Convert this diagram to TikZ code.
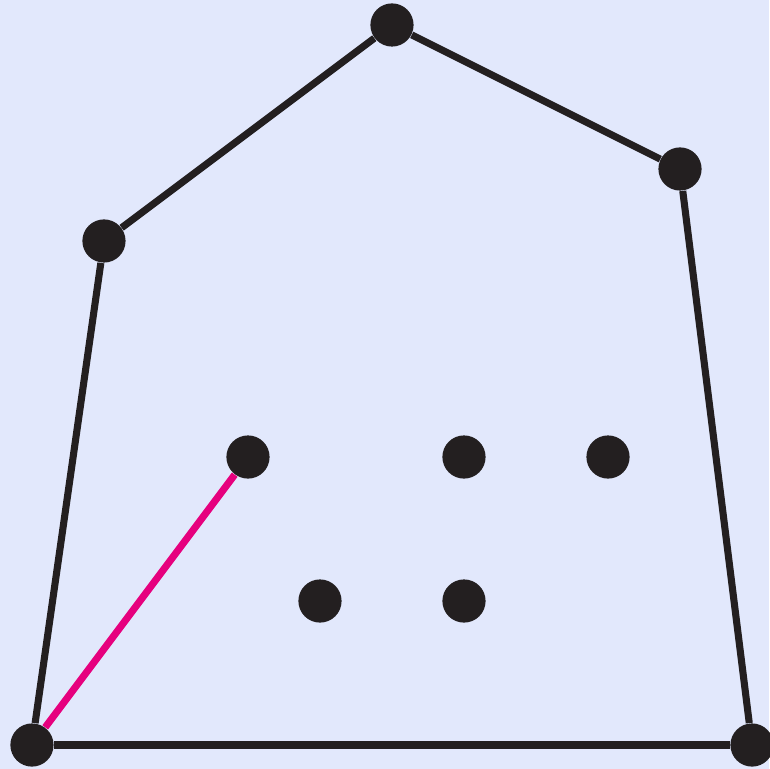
\documentclass[tikz,border=0pt]{standalone}
\usepackage{xcolor}
\usepackage{tikz}
\usetikzlibrary{positioning}

\definecolor{bgblue}{HTML}{E2E8FC}
\definecolor{dotblack}{HTML}{231F20}
\definecolor{hullpink}{HTML}{E6007E}

\begin{document}
\begin{tikzpicture}[
  pt/.style={circle, fill=dotblack, inner sep=0pt, minimum size=0.6cm},
  hull/.style={draw=dotblack, line width=2.8pt},
  probe/.style={draw=hullpink, line width=2.8pt}
]
\fill[bgblue] (-0.444,-0.333) rectangle (10.236,10.347);
\useasboundingbox (-0.444,-0.333) rectangle (10.236,10.347);
% hull points
\node[pt] (p0) at (0,0) {};
\node[pt] (p1) at (10,0) {};
\node[pt] (p2) at (9,8) {};
\node[pt] (p3) at (5,10) {};
\node[pt] (p4) at (1,7) {};
% inner points
\node[pt] (q1) at (3,4) {};
\node[pt] (q2) at (6,4) {};
\node[pt] (q3) at (8,4) {};
\node[pt] (q4) at (4,2) {};
\node[pt] (q5) at (6,2) {};
\draw[hull] (p0) -- (p1);
\draw[hull] (p1) -- (p2);
\draw[hull] (p2) -- (p3);
\draw[hull] (p3) -- (p4);
\draw[hull] (p4) -- (p0);
\draw[probe] (p0) -- (q1);
\end{tikzpicture}
\end{document}
